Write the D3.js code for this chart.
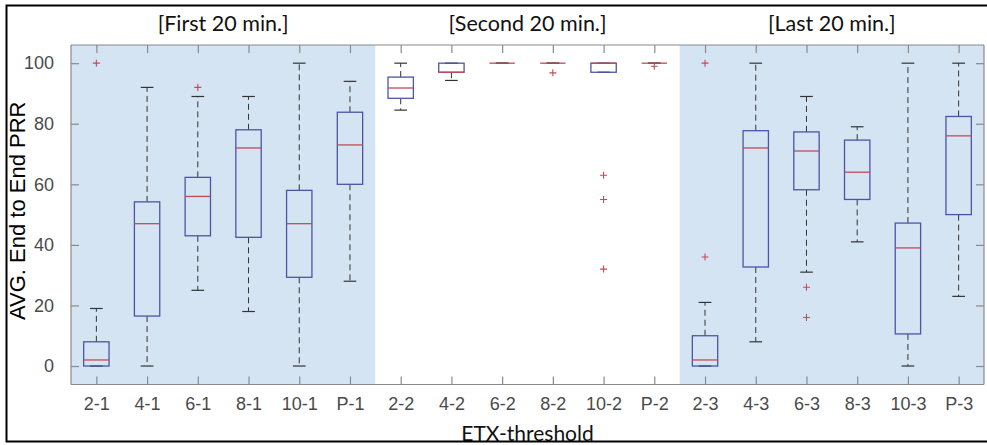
<!DOCTYPE html>
<html>
<head>
<meta charset="utf-8">
<script src="https://cdn.jsdelivr.net/npm/d3@7"></script>
<style>
  body { margin: 0; background: #fff; }
</style>
</head>
<body>
<div id="chart"></div>
<script>
// box plot values (whisker ends, quartiles, median, outliers)
const categories = ["2-1", "4-1", "6-1", "8-1", "10-1", "P-1",
                    "2-2", "4-2", "6-2", "8-2", "10-2", "P-2",
                    "2-3", "4-3", "6-3", "8-3", "10-3", "P-3"];
const whiskerLow  = [0, 0, 25, 18, 0, 28,   84.5, 94.3, 100, 100, 97, 100,   0, 8, 31, 41, 0, 23];
const q1          = [0, 16.5, 43, 42.5, 29.3, 60,   88.4, 97, 100, 100, 97, 100,   0, 32.7, 58.2, 55, 10.6, 50];
const medians     = [2, 47, 56, 72, 47, 73,   91.8, 97, 100, 100, 100, 100,   2, 72, 71, 64, 39, 76];
const q3          = [8, 54.2, 62.3, 78, 58, 83.8,   95.4, 100, 100, 100, 100, 100,   10, 77.7, 77.3, 74.6, 47.2, 82.4];
const whiskerHigh = [19, 92, 89, 89, 100, 94,   100, 100, 100, 100, 100, 100,   21, 100, 89, 79, 100, 100];
const outliers    = [[100], [], [92], [], [], [],
                     [], [], [], [96.8], [63, 55, 32], [99],
                     [100, 36], [], [26, 16], [], [], []];

const groupTitles = ["[First 20 min.]", "[Second 20 min.]", "[Last 20 min.]"];
const groupShaded = [true, false, true];
const yTicks = [0, 20, 40, 60, 80, 100];

const W = 987, H = 445;
const margin = {top: 45, right: 3, bottom: 60.5, left: 71};
const width = W - margin.left - margin.right,
      height = H - margin.top - margin.bottom;

const svg = d3.select("#chart")
  .append("svg")
    .attr("width", W)
    .attr("height", H);

const g = svg.append("g")
    .attr("transform", `translate(${margin.left}, ${margin.top})`);

// scales: boxes sit at positions 1..18
const x = d3.scaleLinear()
    .domain([0.5, categories.length + 0.5])
    .range([0, width]);
const y = d3.scaleLinear()
    .domain([-6.1, 106])
    .range([height, 0]);

const data = categories.map((c, i) => ({
  name: c, pos: i + 1,
  lo: whiskerLow[i], q1: q1[i], med: medians[i], q3: q3[i], hi: whiskerHigh[i],
  out: outliers[i]
}));

// shaded background for first and last group
const groupSize = 6;
g.selectAll(".band")
  .data(groupTitles.map((t, i) => ({t, i})).filter(d => groupShaded[d.i]))
  .enter()
  .append("rect")
    .attr("x", d => x(d.i * groupSize + 0.5))
    .attr("y", 0)
    .attr("width", d => x((d.i + 1) * groupSize + 0.5) - x(d.i * groupSize + 0.5))
    .attr("height", height)
    .attr("fill", "#d5e4f3");

const boxW = 0.5, capW = 0.25;
const boxColor = "#4b55a6", medColor = "#c44a55", whiskColor = "#333";

const box = g.selectAll(".box")
  .data(data)
  .enter()
  .append("g");

// dashed whiskers
box.append("line")
    .attr("x1", d => x(d.pos)).attr("x2", d => x(d.pos))
    .attr("y1", d => y(d.q3)).attr("y2", d => y(d.hi))
    .attr("stroke", whiskColor).attr("stroke-width", 1)
    .attr("stroke-dasharray", "6,4");
box.append("line")
    .attr("x1", d => x(d.pos)).attr("x2", d => x(d.pos))
    .attr("y1", d => y(d.q1)).attr("y2", d => y(d.lo))
    .attr("stroke", whiskColor).attr("stroke-width", 1)
    .attr("stroke-dasharray", "6,4");

// whisker caps
["lo", "hi"].forEach(k => {
  box.append("line")
      .attr("x1", d => x(d.pos - capW / 2)).attr("x2", d => x(d.pos + capW / 2))
      .attr("y1", d => y(d[k])).attr("y2", d => y(d[k]))
      .attr("stroke", whiskColor).attr("stroke-width", 1.2);
});

// boxes
box.append("rect")
    .attr("x", d => x(d.pos - boxW / 2))
    .attr("y", d => y(d.q3))
    .attr("width", x(1 + boxW) - x(1))
    .attr("height", d => y(d.q1) - y(d.q3))
    .attr("fill", "none")
    .attr("stroke", boxColor).attr("stroke-width", 1.3);

// medians
box.append("line")
    .attr("x1", d => x(d.pos - boxW / 2)).attr("x2", d => x(d.pos + boxW / 2))
    .attr("y1", d => y(d.med)).attr("y2", d => y(d.med))
    .attr("stroke", medColor).attr("stroke-width", 1.3);

// outliers as '+'
const pts = data.flatMap(d => d.out.map(v => ({pos: d.pos, v})));
g.selectAll(".out")
  .data(pts)
  .enter()
  .append("path")
    .attr("d", d => {
      const cx = x(d.pos), cy = y(d.v), r = 3.5;
      return `M${cx - r},${cy}H${cx + r}M${cx},${cy - r}V${cy + r}`;
    })
    .attr("stroke", medColor).attr("stroke-width", 1.1)
    .attr("fill", "none");

// axes, ticks inward on all four sides
const axisColor = "#8a8a8a", labelColor = "#4a4a4a";
const tickLen = 8;
const xAxis = g.append("g")
    .attr("transform", `translate(0, ${height})`)
    .call(d3.axisBottom(x).tickValues(data.map(d => d.pos))
      .tickFormat(p => categories[p - 1]).tickSizeInner(-tickLen).tickSizeOuter(0).tickPadding(13));
const xTop = g.append("g")
    .call(d3.axisTop(x).tickValues(data.map(d => d.pos))
      .tickFormat("").tickSizeInner(-tickLen).tickSizeOuter(0));
const yAxis = g.append("g")
    .call(d3.axisLeft(y).tickValues(yTicks).tickSizeInner(-tickLen).tickSizeOuter(0).tickPadding(17));
const yRight = g.append("g")
    .attr("transform", `translate(${width}, 0)`)
    .call(d3.axisRight(y).tickValues(yTicks).tickFormat("").tickSizeInner(-tickLen).tickSizeOuter(0));

[xAxis, xTop, yAxis, yRight].forEach(a => {
  a.select(".domain").attr("stroke", axisColor).attr("stroke-width", 1.2);
  a.selectAll(".tick line").attr("stroke", axisColor).attr("stroke-width", 1.2);
  a.selectAll("text")
    .attr("fill", labelColor)
    .style("font-family", "'Liberation Sans', Arial, sans-serif")
    .style("font-size", "18px");
});
// the axis ends at the plot limits, not at the data
xTop.select(".domain").attr("d", `M0,0H${width}`);
xAxis.select(".domain").attr("d", `M0,0H${width}`);
yAxis.select(".domain").attr("d", `M0,${height}V0`);
yRight.select(".domain").attr("d", `M0,${height}V0`);

// group titles
svg.selectAll(".title")
  .data(groupTitles)
  .enter()
  .append("text")
    .attr("x", (t, i) => margin.left + x(i * groupSize + (groupSize + 1) / 2))
    .attr("y", 31)
    .attr("text-anchor", "middle")
    .style("font-family", "Lato, 'Open Sans', sans-serif")
    .style("font-size", "21.5px")
    .attr("fill", "#111")
    .text(t => t);

// axis labels
svg.append("text")
    .attr("transform", `translate(24.5, ${margin.top + height / 2 - 4}) rotate(-90)`)
    .attr("text-anchor", "middle")
    .style("font-family", "'Liberation Sans', Arial, sans-serif")
    .style("font-size", "22px")
    .attr("fill", "#000")
    .text("AVG. End to End PRR");

svg.append("text")
    .attr("x", margin.left + x(9.5))
    .attr("y", 441)
    .attr("text-anchor", "middle")
    .style("font-family", "Lato, 'Open Sans', sans-serif")
    .style("font-size", "21px")
    .attr("fill", "#111")
    .text("ETX-threshold");

// outer frame of the picture
svg.append("rect")
    .attr("x", 6.5).attr("y", 5.5)
    .attr("width", 990).attr("height", 436)
    .attr("fill", "none")
    .attr("stroke", "#000").attr("stroke-width", 2);
</script>
</body>
</html>
